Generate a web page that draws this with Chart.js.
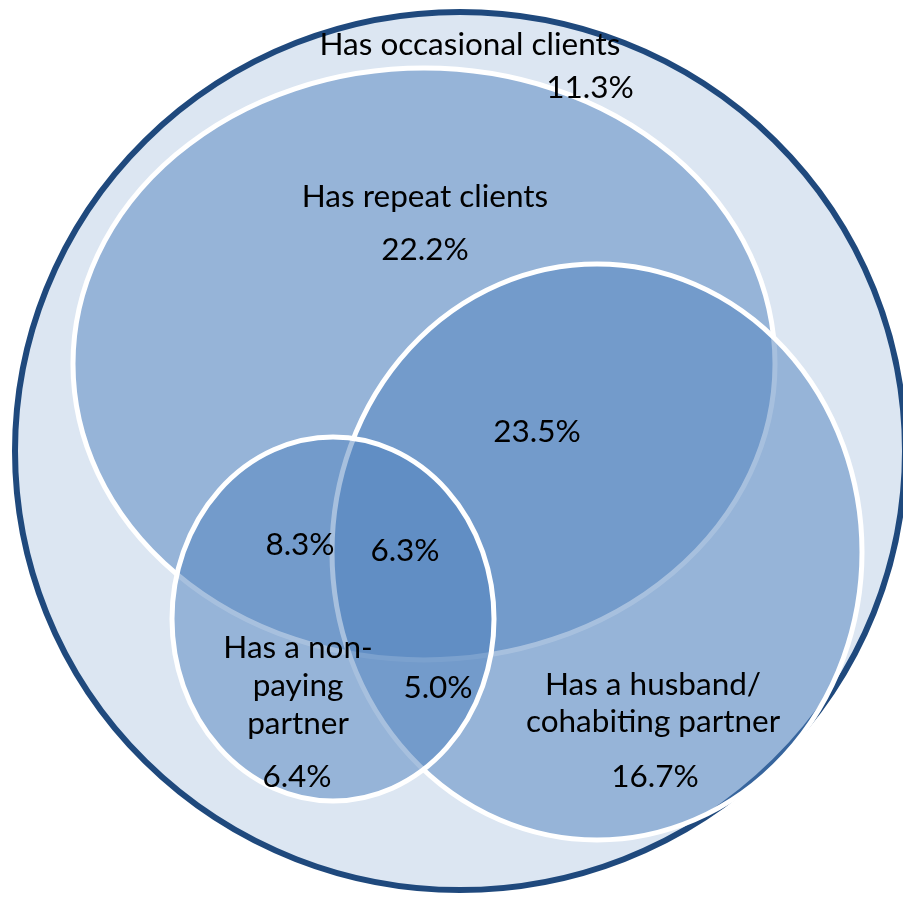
<!DOCTYPE html>
<html>
<head>
<meta charset="utf-8">
<script src="https://cdn.jsdelivr.net/npm/chart.js@4.4.1/dist/chart.umd.min.js"></script>
<style>
  html, body { margin: 0; padding: 0; background: #ffffff; }
  #wrap { width: 903px; height: 899px; position: relative; }
</style>
</head>
<body>
<div id="wrap"><canvas id="c"></canvas></div>
<script>
// ---- Venn sets (ellipses in chart data units) ----
const setNames   = ['Has occasional clients', 'Has repeat clients', 'Has a husband/cohabiting partner', 'Has a non-paying partner'];
const setCenterX = [460, 424, 597, 333];
const setCenterY = [451, 364, 552, 619];
const setRadiusX = [445, 351, 265, 161];
const setRadiusY = [439, 296, 288, 182];

// ---- set name labels (lines) and anchor points ----
const nameLines = [
  ['Has occasional clients'],
  ['Has repeat clients'],
  ['Has a husband/', 'cohabiting partner'],
  ['Has a non-', 'paying', 'partner']
];
const nameX = [470, 425, 653, 298];
const nameY = [[45], [197], [685, 722], [648, 686, 724]];

// ---- region percentages ----
const regionValues = [11.3, 22.2, 23.5, 8.3, 6.3, 5.0, 6.4, 16.7];
const regionX      = [590, 425, 537, 300, 405, 438, 297, 655];
const regionY      = [88, 250, 432, 545, 551, 688, 777, 777];

const FONT = '31.5px Lato, "Open Sans", sans-serif';
const TEXT_SQUEEZE = 1.0;

const vennPlugin = {
  id: 'venn',
  beforeDatasetsDraw(chart) {
    const ctx = chart.ctx, xs = chart.scales.x, ys = chart.scales.y;
    chart.data.datasets.forEach((ds, i) => {
      const cx = xs.getPixelForValue(setCenterX[i]);
      const cy = ys.getPixelForValue(setCenterY[i]);
      const rx = Math.abs(xs.getPixelForValue(setCenterX[i] + setRadiusX[i]) - cx);
      const ry = Math.abs(ys.getPixelForValue(setCenterY[i] + setRadiusY[i]) - cy);
      ctx.save();
      ctx.beginPath();
      ctx.ellipse(cx, cy, rx, ry, 0, 0, Math.PI * 2);
      ctx.fillStyle = ds.backgroundColor;
      ctx.fill();
      ctx.lineWidth = ds.borderWidth;
      ctx.strokeStyle = ds.borderColor;
      ctx.stroke();
      ctx.restore();
    });
  },
  afterDatasetsDraw(chart) {
    const ctx = chart.ctx, xs = chart.scales.x, ys = chart.scales.y;
    const put = (text, vx, vy) => {
      const px = xs.getPixelForValue(vx), py = ys.getPixelForValue(vy);
      ctx.save();
      ctx.translate(px, py);
      ctx.scale(TEXT_SQUEEZE, 1);
      ctx.fillText(text, 0, 0);
      ctx.restore();
    };
    ctx.save();
    ctx.font = FONT;
    ctx.fillStyle = '#000000';
    ctx.textAlign = 'center';
    ctx.textBaseline = 'middle';
    nameLines.forEach((lines, i) => {
      lines.forEach((line, j) => put(line, nameX[i], nameY[i][j]));
    });
    regionValues.forEach((v, i) => put(v.toFixed(1) + '%', regionX[i], regionY[i]));
    ctx.restore();
  }
};

const fills   = ['#dce6f2', 'rgba(79,129,189,0.5)', 'rgba(79,129,189,0.5)', 'rgba(79,129,189,0.5)'];
const borders = ['#1f497d', '#ffffff', '#ffffff', '#ffffff'];
const widths  = [6, 5, 5, 5];

new Chart(document.getElementById('c'), {
  type: 'scatter',
  data: {
    datasets: setNames.map((name, i) => ({
      label: name,
      data: [{ x: setCenterX[i], y: setCenterY[i] }],
      backgroundColor: fills[i],
      borderColor: borders[i],
      borderWidth: widths[i],
      pointRadius: 0,
      pointHoverRadius: 0
    }))
  },
  options: {
    responsive: true,
    maintainAspectRatio: false,
    animation: false,
    layout: { padding: 0 },
    plugins: { legend: { display: false }, tooltip: { enabled: false } },
    scales: {
      x: { type: 'linear', min: 0, max: 903, display: false },
      y: { type: 'linear', min: 0, max: 899, reverse: true, display: false }
    }
  },
  plugins: [vennPlugin]
});
</script>
</body>
</html>
